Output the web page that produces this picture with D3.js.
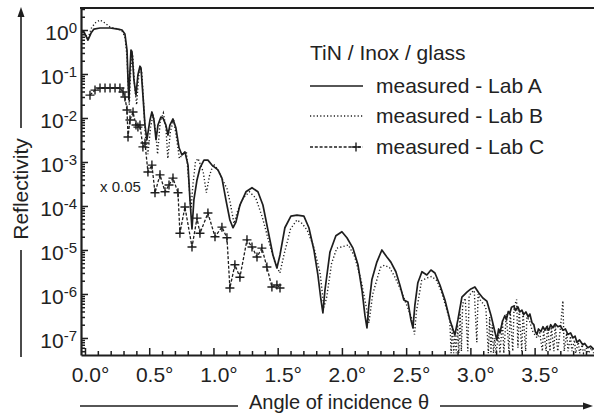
<!DOCTYPE html>
<html><head><meta charset="utf-8">
<script src="https://cdn.jsdelivr.net/npm/d3@7"></script>
<style>
body{margin:0;background:#fff}
svg{display:block}
text{font-family:"Liberation Sans",Arial,Helvetica,sans-serif;fill:#222}
</style>
</head><body>
<svg id="chart" width="594" height="414"></svg>
<script>
// ---- data: [angle of incidence (deg), reflectivity] ----
const labA = [
[-0.031,1.0],[-0.008,0.90],[0.023,0.59],[0.047,0.85],[0.07,1.05],[0.117,1.11],[0.195,1.11],[0.257,1.05],[0.288,1.0],[0.311,0.81],
[0.327,0.35],[0.335,0.073],[0.342,0.026],[0.35,0.12],[0.358,0.35],[0.366,0.32],[0.381,0.073],[0.397,0.033],[0.412,0.095],[0.428,0.15],
[0.436,0.137],[0.451,0.033],[0.467,0.0069],[0.482,0.0032],[0.506,0.009],[0.521,0.0137],[0.537,0.009],[0.553,0.0032],[0.568,0.0069],[0.591,0.0105],
[0.607,0.010],[0.63,0.0069],[0.646,0.0041],[0.661,0.0069],[0.685,0.0095],[0.708,0.0059],[0.732,0.0021],[0.755,0.00144],[0.778,0.0017],[0.802,8.5e-4],
[0.817,1.4e-4],[0.833,3e-5],[0.848,1.4e-4],[0.872,3.9e-4],[0.895,7.3e-4],[0.926,1.1e-3],[0.957,1.1e-3],[0.988,8.5e-4],[1.035,6.6e-4],[1.066,4.3e-4],
[1.097,1.37e-4],[1.128,4.8e-5],[1.152,3.2e-5],[1.175,4.3e-5],[1.206,1.05e-4],[1.253,2.1e-4],[1.3,2.6e-4],[1.346,2.1e-4],[1.385,1.05e-4],[1.424,2.85e-5],
[1.463,7.7e-6],[1.494,3.9e-6],[1.518,7.7e-6],[1.556,3.2e-5],[1.603,5.9e-5],[1.65,6.2e-5],[1.704,5.9e-5],[1.743,3.2e-5],[1.782,1.0e-5],[1.813,2.7e-6],
[1.837,7.3e-7],[1.852,3.7e-7],[1.868,1.23e-6],[1.907,9.0e-6],[1.953,2.1e-5],[2.0,2.6e-5],[2.039,1.9e-5],[2.086,1.1e-5],[2.125,4.6e-6],[2.156,1.23e-6],
[2.179,3.3e-7],[2.195,1.7e-7],[2.21,5.6e-7],[2.233,2.1e-6],[2.272,5.3e-6],[2.311,1.0e-5],[2.35,6.9e-6],[2.381,5.3e-6],[2.42,3.2e-6],[2.451,1.6e-6],
[2.482,7.3e-7],[2.514,6.6e-7],[2.537,2.6e-7],[2.553,1.7e-7],[2.568,5.6e-7],[2.591,1.8e-6],[2.623,3.2e-6],[2.661,2.7e-6],[2.693,3.5e-6],[2.724,3.0e-6],
[2.763,1.6e-6],[2.802,7.3e-7],[2.84,2.6e-7],[2.879,1.17e-7],[2.903,2.6e-7],[2.934,8.5e-7],[2.973,1.1e-6],[3.004,1.3e-6],[3.035,1.44e-6],[3.066,1.05e-6],
[3.097,8.1e-7],[3.128,6.9e-7],[3.16,3.3e-7],[3.191,1.37e-7],[3.206,9.0e-8],[3.22,1.6e-7],[3.23,1.3e-7],[3.25,2.4e-7],[3.268,3.2e-7],[3.28,2.6e-7],
[3.295,4.0e-7],[3.307,3.6e-7],[3.32,5.0e-7],[3.339,5.3e-7],[3.35,4.2e-7],[3.37,5.1e-7],[3.385,3.9e-7],[3.401,4.3e-7],[3.415,3.4e-7],[3.432,3.9e-7],
[3.45,3.0e-7],[3.463,3.5e-7],[3.48,2.2e-7],[3.494,2.0e-7],[3.505,1.4e-7],[3.518,1.2e-7],[3.53,1.6e-7],[3.549,1.4e-7],[3.565,1.8e-7],[3.58,1.5e-7],
[3.595,1.8e-7],[3.61,1.5e-7],[3.625,2.0e-7],[3.642,1.7e-7],[3.66,2.1e-7],[3.681,1.8e-7],[3.7,1.9e-7],[3.72,1.5e-7],[3.74,1.6e-7],[3.759,1.2e-7],
[3.78,1.3e-7],[3.798,1.0e-7],[3.815,1.1e-7],[3.829,8.0e-8],[3.85,9e-8],[3.875,7e-8],[3.89,7.5e-8],[3.914,6e-8],[3.935,6.5e-8],[3.961,5.5e-8]
];
const labB = [
[-0.031,0.95],[-0.005,0.85],[0.023,0.65],[0.05,1.1],[0.078,1.44],[0.117,1.69],[0.156,1.44],[0.195,1.17],[0.257,1.05],[0.288,0.95],
[0.311,0.7],[0.327,0.25],[0.337,0.05],[0.345,0.02],[0.353,0.08],[0.364,0.3],[0.372,0.25],[0.387,0.05],[0.402,0.02],[0.418,0.09],
[0.434,0.14],[0.442,0.11],[0.457,0.02],[0.47,0.004],[0.49,0.0015],[0.51,0.006],[0.53,0.012],[0.55,0.005],[0.565,0.0015],[0.585,0.008],
[0.61,0.013],[0.63,0.006],[0.645,0.0012],[0.665,0.005],[0.69,0.009],[0.71,0.004],[0.735,0.0012],[0.76,0.0015],[0.79,0.0016],[0.81,3e-4],
[0.825,8e-5],[0.84,3e-4],[0.86,1.0e-3],[0.88,1.2e-3],[0.92,6e-4],[0.945,2e-4],[0.97,5e-4],[1.0,9e-4],[1.03,7e-4],[1.07,4e-4],
[1.105,2.5e-4],[1.13,1.2e-4],[1.16,4e-5],[1.19,8e-5],[1.23,1.5e-4],[1.28,2.1e-4],[1.33,1.5e-4],[1.38,5.6e-5],[1.43,1.6e-5],[1.48,5e-6],
[1.517,3e-6],[1.55,8e-6],[1.6,3e-5],[1.65,4.8e-5],[1.69,4e-5],[1.73,2.8e-5],[1.78,1.2e-5],[1.83,3e-6],[1.86,5e-7],[1.88,8e-7],
[1.92,5e-6],[1.96,1.1e-5],[2.01,1.2e-5],[2.05,1.3e-5],[2.1,7e-6],[2.15,2e-6],[2.19,5e-7],[2.21,2.2e-7],[2.24,1e-6],[2.3,4e-6],
[2.33,4.5e-6],[2.37,4e-6],[2.41,2.5e-6],[2.46,1.2e-6],[2.5,6e-7],[2.54,3e-7],[2.565,1.2e-7],[2.58,4e-7],[2.62,2e-6],[2.66,2.3e-6],
[2.7,2.5e-6],[2.74,2e-6],[2.78,1e-6],[2.82,4e-7],[2.84,2.5e-7],[2.85,4.5e-8],[2.86,2e-7],[2.87,4.5e-8],[2.88,1.2e-7],[2.89,4.5e-8],
[2.9,2e-7],[2.91,4.5e-8],[2.92,4e-7],[2.93,5e-8],[2.94,6e-7],[2.96,8e-7],[2.98,5e-8],[2.99,9e-7],[3.01,1.1e-6],[3.03,1.2e-6],
[3.05,8e-8],[3.06,1e-6],[3.08,7e-7],[3.1,6e-7],[3.12,5e-7],[3.14,4.5e-8],[3.15,3e-7],[3.16,4.5e-8],[3.17,2e-7],[3.18,4.5e-8],
[3.19,1e-7],[3.2,4.5e-8],[3.22,1.2e-7],[3.23,4.5e-8],[3.25,2.5e-7],[3.26,4.5e-8],[3.28,3.5e-7],[3.3,5e-8],[3.31,4e-7],[3.33,5e-8],
[3.34,5e-7],[3.36,7.5e-7],[3.37,6e-8],[3.38,4.5e-7],[3.4,5e-8],[3.41,4e-7],[3.43,5e-8],[3.44,3e-7],[3.46,2.5e-7],[3.48,1.5e-7],
[3.5,1.2e-7],[3.52,1e-7],[3.54,1.3e-7],[3.56,5e-8],[3.57,1.5e-7],[3.59,5e-8],[3.6,2e-7],[3.62,5e-8],[3.63,1.8e-7],[3.65,5e-8],
[3.66,2e-7],[3.68,5e-8],[3.7,1.6e-7],[3.72,7e-7],[3.73,5e-8],[3.75,1.3e-7],[3.76,5e-8],[3.78,1.1e-7],[3.79,5e-8],[3.81,9e-8],
[3.82,4.5e-8],[3.84,8e-8],[3.85,4.5e-8],[3.87,7e-8],[3.88,4.5e-8],[3.9,6e-8],[3.92,4.5e-8],[3.94,6e-8],[3.96,4.5e-8]
];
// Lab C is plotted multiplied by 0.05
const labC = [
[0.039,0.033],[0.078,0.043],[0.117,0.048],[0.156,0.048],[0.195,0.048],[0.234,0.048],[0.272,0.048],[0.296,0.039],[0.311,0.030],[0.327,0.0152],
[0.335,0.0037],[0.35,0.009],[0.374,0.0137],[0.397,0.0069],[0.412,0.0062],[0.428,0.0069],[0.451,0.0022],[0.467,0.0027],[0.49,5.9e-4],[0.521,8.5e-4],
[0.545,2.0e-4],[0.584,5.1e-4],[0.623,2.1e-4],[0.654,3.0e-4],[0.685,4.3e-4],[0.724,2.0e-4],[0.739,2.4e-5],[0.778,9.5e-5],[0.833,1.17e-5],[0.872,5.3e-5],
[0.895,2.4e-5],[0.957,6.9e-5],[1.012,2.0e-5],[1.066,3.3e-5],[1.105,1.9e-5],[1.128,1.37e-6],[1.167,4.6e-6],[1.206,2.4e-6],[1.261,1.7e-5],[1.3,1.17e-5],
[1.339,6.9e-6],[1.377,1.1e-5],[1.416,4.1e-6],[1.455,1.44e-6],[1.494,1.6e-6],[1.518,1.37e-6]
];
const xMajorTicks = [0, 0.5, 1.0, 1.5, 2.0, 2.5, 3.0, 3.5];
const xTickLabels = ["0.0°","0.5°","1.0°","1.5°","2.0°","2.5°","3.0°","3.5°"];
const yExponents = [0, -1, -2, -3, -4, -5, -6, -7];
const legendTitle = "TiN / Inox / glass";
const seriesNames = ["measured - Lab A", "measured - Lab B", "measured - Lab C"];
const scaleNote = "x 0.05";
const xTitle = "Angle of incidence θ";
const yTitle = "Reflectivity";

// ---- chart ----
const L = 81, R = 595, T = 8, B = 355;
const svg = d3.select("#chart");
const x = d3.scaleLinear().domain([-0.031, 3.97]).range([L, R]);
const y = d3.scaleLog().domain([4.1e-8, 3.16]).range([B, T]);
const ink = "#1e1e1e";

svg.append("defs").append("clipPath").attr("id","plotclip")
  .append("rect").attr("x",L).attr("y",T).attr("width",R-L).attr("height",B-T);

const line = d3.line().x(d => x(d[0])).y(d => y(d[1]));
const plot = svg.append("g").attr("clip-path","url(#plotclip)");

plot.append("path").datum(labB).attr("d",line).attr("fill","none")
  .attr("stroke",ink).attr("stroke-width",1.4).attr("stroke-dasharray","1.2,2.2");
plot.append("path").datum(labC).attr("d",line).attr("fill","none")
  .attr("stroke",ink).attr("stroke-width",1.3).attr("stroke-dasharray","3,1.8");
plot.append("path").datum(labA).attr("d",line).attr("fill","none")
  .attr("stroke",ink).attr("stroke-width",1.7).attr("stroke-linejoin","round");

function cross(g, cx, cy, s){
  g.append("path").attr("d",`M${cx-s},${cy}H${cx+s}M${cx},${cy-s}V${cy+s}`)
   .attr("stroke",ink).attr("stroke-width",1.4).attr("fill","none");
}
const cg = plot.append("g");
labC.forEach(d => cross(cg, x(d[0]), y(d[1]), 4.5));

// ---- axes ----
const xAxis = d3.axisBottom(x).tickValues(xMajorTicks)
  .tickFormat((d,i) => xTickLabels[i]).tickSizeInner(-7).tickSizeOuter(0).tickPadding(12);
const gx = svg.append("g").attr("transform",`translate(0,${B})`).call(xAxis);
gx.selectAll(".tick text").attr("font-size",21).attr("dx",5).attr("fill","#222");
const xMinor = d3.range(1, 40).map(i => i/10).filter(v => Math.abs(v*2 - Math.round(v*2)) > 1e-6);
svg.append("g").attr("transform",`translate(0,${B})`)
  .call(d3.axisBottom(x).tickValues(xMinor).tickFormat("").tickSizeInner(-4).tickSizeOuter(0))
  .select(".domain").remove();

const yMajor = yExponents.map(e => Math.pow(10, e));
const yAxis = d3.axisLeft(y).tickValues(yMajor).tickFormat("").tickSizeInner(-7).tickSizeOuter(0).tickPadding(6);
const gy = svg.append("g").attr("transform",`translate(${L},0)`).call(yAxis);
gy.selectAll(".tick text").each(function(d, i){
  const t = d3.select(this).attr("font-size",21).attr("dy","0.47em").attr("x",-4).attr("fill","#222");
  t.append("tspan").text("10");
  t.append("tspan").attr("font-size",15).attr("dy",-7).text(String(yExponents[i]));
});
const yMinor = [];
for (let e = -8; e <= 0; e++) for (let k = 2; k <= 9; k++) {
  const v = k * Math.pow(10, e);
  if (v > 4.1e-8 && v < 3.16) yMinor.push(v);
}
svg.append("g").attr("transform",`translate(${L},0)`)
  .call(d3.axisLeft(y).tickValues(yMinor).tickFormat("").tickSizeInner(-4).tickSizeOuter(0))
  .select(".domain").remove();

svg.selectAll(".domain").attr("stroke",ink).attr("stroke-width",2.2);
svg.selectAll(".tick line").attr("stroke",ink).attr("stroke-width",1.5);

// top border
svg.append("line").attr("x1",L-1).attr("x2",594).attr("y1",T).attr("y2",T)
  .attr("stroke",ink).attr("stroke-width",2);

// ---- axis titles with arrows ----
function arrowHead(px, py, dir){
  const p = dir === "up"
    ? `M${px},${py} L${px-3.5},${py+10} L${px+3.5},${py+10} Z`
    : `M${px},${py} L${px-10},${py-3.5} L${px-10},${py+3.5} Z`;
  svg.append("path").attr("d",p).attr("fill",ink);
}
svg.append("line").attr("x1",21).attr("x2",21).attr("y1",357).attr("y2",250).attr("stroke",ink).attr("stroke-width",1.6);
svg.append("line").attr("x1",21).attr("x2",21).attr("y1",128).attr("y2",14).attr("stroke",ink).attr("stroke-width",1.6);
arrowHead(21, 7, "up");
svg.append("text").attr("transform","translate(28,189) rotate(-90)")
  .attr("text-anchor","middle").attr("font-size",21).text(yTitle);

svg.append("line").attr("x1",80).attr("x2",238).attr("y1",406).attr("y2",406).attr("stroke",ink).attr("stroke-width",1.6);
svg.append("line").attr("x1",440).attr("x2",585).attr("y1",406).attr("y2",406).attr("stroke",ink).attr("stroke-width",1.6);
arrowHead(593, 406, "right");
svg.append("text").attr("x",339).attr("y",409).attr("text-anchor","middle").attr("font-size",20).text(xTitle);

// ---- note & legend ----
svg.append("text").attr("x",100).attr("y",192).attr("font-size",15).text(scaleNote);

const lg = svg.append("g");
lg.append("text").attr("x",310).attr("y",60).attr("font-size",21).text(legendTitle);
const rowsY = [86, 116, 147];
const dashes = [null, "1.2,2.2", "3,1.8"];
const widths = [1.7, 1.4, 1.3];
seriesNames.forEach((name, i) => {
  lg.append("line").attr("x1",310).attr("x2",363).attr("y1",rowsY[i]).attr("y2",rowsY[i])
    .attr("stroke",ink).attr("stroke-width",widths[i]).attr("stroke-dasharray",dashes[i]);
  lg.append("text").attr("x",376).attr("y",rowsY[i]+7).attr("font-size",21).text(name);
});
cross(lg, 356, rowsY[2], 4.5);
</script>
</body></html>
